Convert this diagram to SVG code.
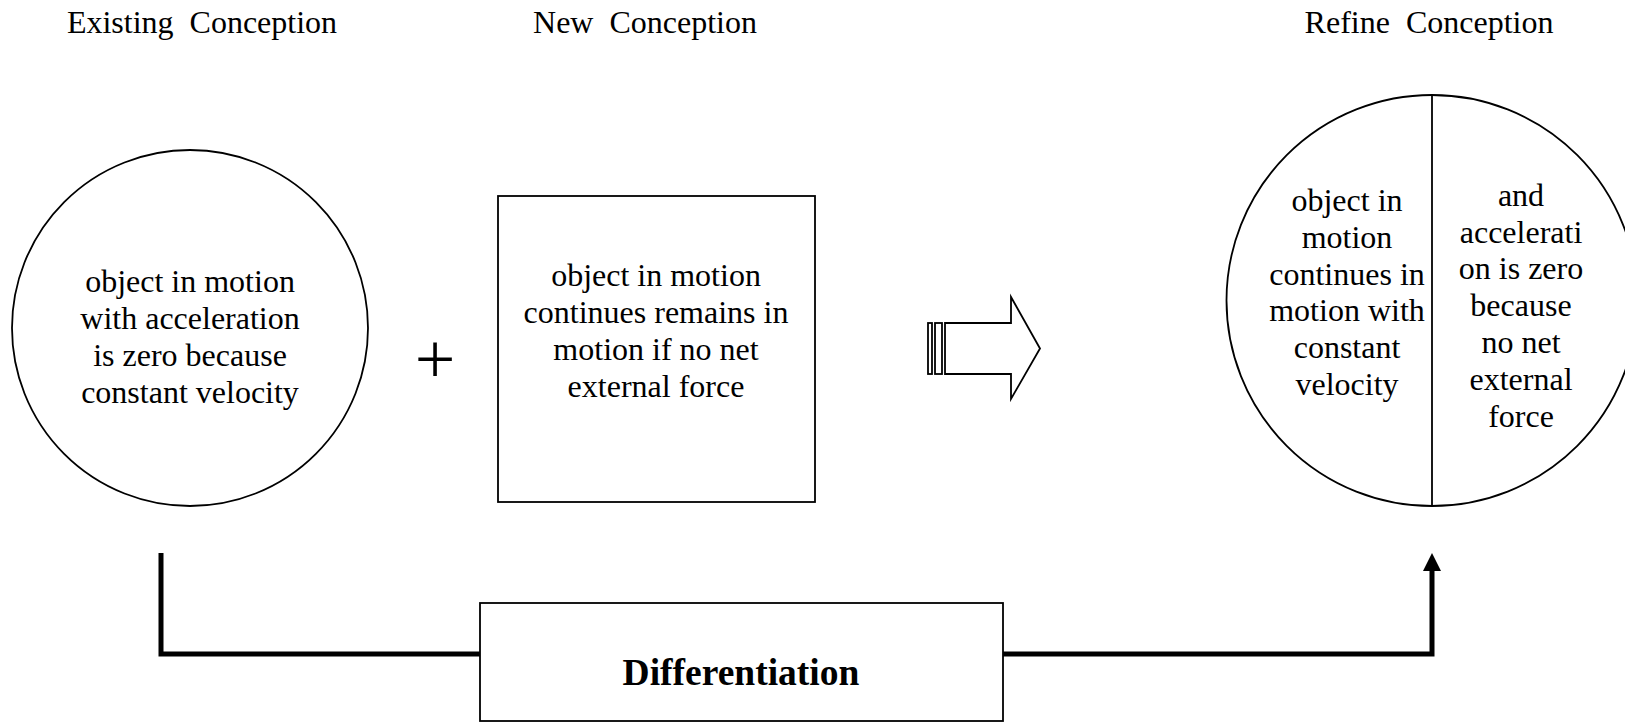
<svg xmlns="http://www.w3.org/2000/svg" width="1625" height="722" viewBox="0 0 1625 722">
<style>
.t{font-family:"Liberation Serif","Times New Roman",serif;font-size:32px;fill:#000;text-anchor:middle}
.title{font-family:"Liberation Serif","Times New Roman",serif;font-size:32px;fill:#000;text-anchor:middle;white-space:pre}
.shape{fill:#fff;stroke:#000;stroke-width:1.8}
.conn{fill:none;stroke:#000;stroke-width:5;stroke-linejoin:miter}
</style>
<defs>
<marker id="ah" markerUnits="userSpaceOnUse" markerWidth="18" markerHeight="18" viewBox="0 0 18 18" refX="3" refY="9" orient="auto">
<path d="M0,0 L18,9 L0,18 z" fill="#000"/>
</marker>
</defs>
<rect width="1625" height="722" fill="#fff"/>
<g id="titles">
<text class="title" x="202" y="33" xml:space="preserve">Existing  Conception</text>
<text class="title" x="645" y="33" xml:space="preserve">New  Conception</text>
<text class="title" x="1429" y="33" xml:space="preserve">Refine  Conception</text>
</g>
<g id="connectors">
<path class="conn" d="M161,553 V654 H1432 V568" marker-end="url(#ah)"/>
</g>
<g id="existing">
<circle class="shape" cx="190" cy="328" r="178"/>
<text class="t" x="190" y="292">object in motion</text>
<text class="t" x="190" y="329">with acceleration</text>
<text class="t" x="190" y="366">is zero because</text>
<text class="t" x="190" y="403">constant velocity</text>
</g>
<g id="plus">
<text x="435" y="383" style="font-family:'Liberation Serif',serif;font-size:72px;text-anchor:middle">+</text>
</g>
<g id="new">
<rect class="shape" x="498" y="196" width="317" height="306"/>
<text class="t" x="656" y="286">object in motion</text>
<text class="t" x="656" y="323">continues remains in</text>
<text class="t" x="656" y="360">motion if no net</text>
<text class="t" x="656" y="397">external force</text>
</g>
<g id="block-arrow">
<rect class="shape" x="928" y="323" width="4" height="51" stroke-width="1.5"/>
<rect class="shape" x="935" y="323" width="7" height="51" stroke-width="1.5"/>
<polygon class="shape" stroke-width="1.5" points="945,323 1011,323 1011,297 1040,348.5 1011,399 1011,374 945,374"/>
</g>
<g id="refine">
<circle class="shape" cx="1432" cy="300.5" r="205.5"/>
<line x1="1432" y1="95" x2="1432" y2="506" stroke="#000" stroke-width="1.8"/>
<text class="t" x="1347" y="211">object in</text>
<text class="t" x="1347" y="248">motion</text>
<text class="t" x="1347" y="285">continues in</text>
<text class="t" x="1347" y="321">motion with</text>
<text class="t" x="1347" y="358">constant</text>
<text class="t" x="1347" y="395">velocity</text>
<text class="t" x="1521" y="206">and</text>
<text class="t" x="1521" y="243">accelerati</text>
<text class="t" x="1521" y="279">on is zero</text>
<text class="t" x="1521" y="316">because</text>
<text class="t" x="1521" y="353">no net</text>
<text class="t" x="1521" y="390">external</text>
<text class="t" x="1521" y="427">force</text>
</g>
<g id="differentiation">
<rect class="shape" x="480" y="603" width="523" height="118"/>
<text x="741" y="685" style="font-family:'Liberation Serif',serif;font-size:37.5px;font-weight:bold;text-anchor:middle">Differentiation</text>
</g>
</svg>
